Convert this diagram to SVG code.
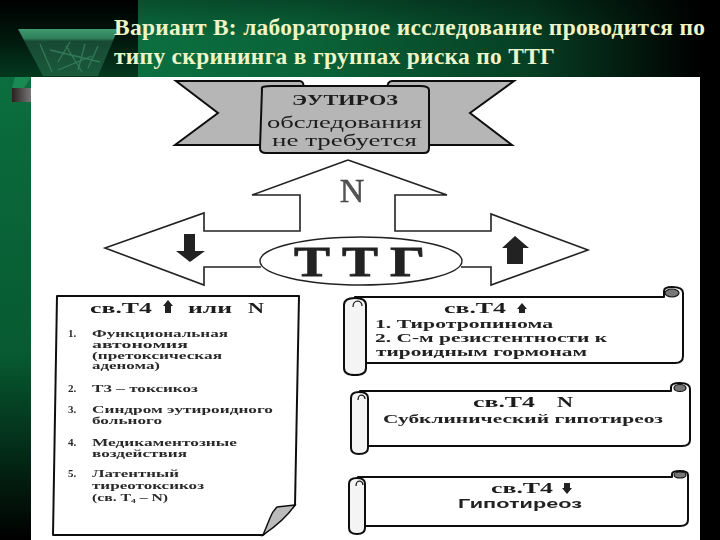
<svg xmlns="http://www.w3.org/2000/svg" width="720" height="540" viewBox="0 0 720 540">
<style>
.title{font:bold 23.4px "Liberation Serif",serif;fill:#eef5c6}
.s{font-family:"Liberation Serif",serif;font-weight:bold;fill:#1c1c1c}
.h{font-size:15px}
.p{font-size:11px;fill:#2a2a2a}
.l{font-size:12.5px;fill:#222}
.line{fill:#fff;stroke:#111;stroke-width:2;stroke-linejoin:round}
.roll{fill:#f4f4f4;stroke:#111;stroke-width:2}
.grey{fill:#b6b6b6;stroke:#111;stroke-width:2;stroke-linejoin:miter}
.curl{fill:#777;stroke:#111;stroke-width:1.2}
.ar{fill:#222}
</style>
<defs>
<linearGradient id="top" x1="0" x2="1" y1="0" y2="0">
<stop offset="0" stop-color="#0b6f40"/><stop offset="0.3" stop-color="#0a6439"/><stop offset="0.7" stop-color="#063f24"/><stop offset="1" stop-color="#000"/>
</linearGradient>
<linearGradient id="topshade" x1="0" x2="0" y1="0" y2="1">
<stop offset="0" stop-color="#000" stop-opacity="0.3"/><stop offset="0.5" stop-color="#000" stop-opacity="0"/>
</linearGradient>
<linearGradient id="corner" x1="0" x2="0" y1="0" y2="1">
<stop offset="0" stop-color="#000"/><stop offset="0.5" stop-color="#01180d"/><stop offset="1" stop-color="#04391f"/>
</linearGradient>
<linearGradient id="left" x1="0" x2="0" y1="0" y2="1">
<stop offset="0" stop-color="#0b6e3f"/><stop offset="0.6" stop-color="#075a31"/><stop offset="1" stop-color="#000"/>
</linearGradient>
<linearGradient id="tri" x1="0" x2="0" y1="0" y2="1">
<stop offset="0" stop-color="#3f9a70"/><stop offset="0.2" stop-color="#2f7f5a"/><stop offset="0.26" stop-color="#174a32"/><stop offset="1" stop-color="#1a5a3c"/>
</linearGradient>
<linearGradient id="bar" x1="0" x2="1" y1="0" y2="0">
<stop offset="0" stop-color="#2a2020"/><stop offset="1" stop-color="#777"/>
</linearGradient>
<filter id="scan" x="-2%" y="-2%" width="104%" height="104%"><feGaussianBlur stdDeviation="0.45"/></filter>
</defs>

<g id="background">
<rect width="720" height="540" fill="#000"/>
<rect x="138" y="0" width="562" height="77" fill="url(#top)"/>
<rect x="138" y="0" width="562" height="77" fill="url(#topshade)"/>
<rect x="700" y="0" width="20" height="540" fill="#000"/>
<rect x="0" y="0" width="138" height="77" fill="url(#corner)"/>
<rect x="0" y="77" width="31" height="463" fill="url(#left)"/>
<polygon points="18,29 118,29 98,76 43,76" fill="url(#tri)"/>
<path d="M40 44 L52 72 M70 42 L58 62 M85 44 L78 70 M98 46 L88 68 M50 50 L100 62 M58 70 L92 56 M66 46 L82 72" stroke="#3f8a68" stroke-width="1.3" fill="none" opacity="0.7"/>
<polygon points="12,88 24,88 31,77 15,77" fill="#1a8a55"/>
<rect x="12" y="88" width="19" height="14" fill="url(#bar)"/>
<rect x="31" y="77" width="669" height="463" fill="#fff"/>
</g>

<g id="title">
<text class="title" x="114" y="35" textLength="591">Вариант В: лабораторное исследование проводится по</text>
<text class="title" x="114" y="64" textLength="441">типу скрининга в группах риска по ТТГ</text>
</g>

<g filter="url(#scan)">
<g id="euthyroid">
<path class="grey" d="M176 81 H300 Q304 81 304 90 H262 V145 H175 L218 113 Z"/>
<path class="grey" d="M514 81 H392 Q387 81 387 90 H428 V145 H512 L470 113 Z"/>
<path class="grey" stroke-width="2.5" d="M262 89 Q260 86 272 86 H420 Q429 86 429 90 V148 Q429 153 424 153 H266 Q260 153 260 148 Z"/>
<text class="s" x="292" y="105" font-size="15" textLength="106" lengthAdjust="spacingAndGlyphs">ЭУТИРОЗ</text>
<text x="267" y="128" font-family="Liberation Serif,serif" font-size="17" fill="#1c1c1c" textLength="155" lengthAdjust="spacingAndGlyphs">обследования</text>
<text x="272" y="146" font-family="Liberation Serif,serif" font-size="17" fill="#1c1c1c" textLength="145" lengthAdjust="spacingAndGlyphs">не требуется</text>
</g>

<g id="connectors">
<polygon fill="#fff" points="348,160 447,195 395,195 395,231 491,231 491,214 588,250 491,285 491,267 204,267 204,285 105,248 204,213 204,231 300,231 300,195 252,195"/>
<path fill="none" stroke="#222" stroke-width="1.6" stroke-linejoin="miter" d="M348 160 L447 195 H395 V231 H491 V214 L588 250 L491 285 V267 H461 M261 267 H204 V285 L105 248 L204 213 V231 H300 V195 H252 L348 160"/>
<text x="352" y="202" text-anchor="middle" font-family="Liberation Serif,serif" font-size="34" fill="#555" stroke="#333" stroke-width="0.4">N</text>
<polygon class="ar" points="184,234 195,234 195,251 205,251 190,262 176,251 184,251"/>
<polygon class="ar" points="515,236 529,248 523,248 523,264 507,264 507,248 502,248"/>
</g>

<g id="ttg">
<ellipse cx="361" cy="261" rx="101" ry="24" fill="#fff" stroke="#222" stroke-width="1.4"/>
<g font-family="Liberation Serif,serif" font-weight="bold" font-size="43" fill="#222" stroke="#222" stroke-width="0.8">
<text x="294" y="276" textLength="36" lengthAdjust="spacingAndGlyphs">Т</text>
<text x="342" y="276" textLength="36" lengthAdjust="spacingAndGlyphs">Т</text>
<text x="390" y="276" textLength="35" lengthAdjust="spacingAndGlyphs">Г</text>
</g>
</g>

<g id="note">
<path class="line" d="M57 296 H299 L295 505 L263 535 H53 Z"/>
<path d="M295 505 L277 507 Q272 512 270 518 Q266 528 263 535 Q285 520 295 505 Z" fill="#bbb" stroke="#111" stroke-width="1.5"/>
<text class="s h" x="90" y="313" textLength="62" lengthAdjust="spacingAndGlyphs">св.Т4</text>
<polygon class="ar" points="168,300 173,306 171,306 171,313 165,313 165,306 163,306"/>
<text class="s h" x="188" y="313" font-size="13" textLength="44" lengthAdjust="spacingAndGlyphs">или</text>
<text class="s h" x="248" y="313" textLength="16" lengthAdjust="spacingAndGlyphs">N</text>
<g class="s p" lengthAdjust="spacingAndGlyphs">
<text x="68" y="337">1.</text>
<text x="92" y="337" textLength="136" lengthAdjust="spacingAndGlyphs">Функциональная</text>
<text x="92" y="348" textLength="96" lengthAdjust="spacingAndGlyphs">автономия</text>
<text x="92" y="358.5" textLength="130" lengthAdjust="spacingAndGlyphs">(претоксическая</text>
<text x="92" y="369" textLength="68" lengthAdjust="spacingAndGlyphs">аденома)</text>
<text x="68" y="392">2.</text>
<text x="92" y="392" textLength="106" lengthAdjust="spacingAndGlyphs">Т3 – токсикоз</text>
<text x="68" y="413">3.</text>
<text x="92" y="413" textLength="181" lengthAdjust="spacingAndGlyphs">Синдром эутироидного</text>
<text x="92" y="424" textLength="70" lengthAdjust="spacingAndGlyphs">больного</text>
<text x="68" y="446">4.</text>
<text x="92" y="446" textLength="145" lengthAdjust="spacingAndGlyphs">Медикаментозные</text>
<text x="92" y="457" textLength="95" lengthAdjust="spacingAndGlyphs">воздействия</text>
<text x="68" y="477">5.</text>
<text x="92" y="477" textLength="87" lengthAdjust="spacingAndGlyphs">Латентный</text>
<text x="92" y="489" textLength="112" lengthAdjust="spacingAndGlyphs">тиреотоксикоз</text>
<text x="92" y="501" textLength="76" lengthAdjust="spacingAndGlyphs">(св. Т₄ – N)</text>
</g>
</g>

<g id="scroll1">
<path class="line" d="M355 297 H664 V291 Q664 287 672 287 Q683 287 683 293 V356 Q683 363 675 363 H366 Z"/>
<ellipse class="curl" cx="672" cy="293" rx="7" ry="4"/>
<path class="roll" d="M344 305 Q344 298 355 298 Q366 298 366 305 V368 Q366 375 355 375 Q344 375 344 368 Z"/>
<path d="M353 307 Q353 301 358 301 Q362 302 362 306" fill="none" stroke="#111" stroke-width="1.2"/>
<text class="s h" x="444" y="313" textLength="62" lengthAdjust="spacingAndGlyphs">св.Т4</text>
<polygon class="ar" points="522,303 527,309 525,309 525,313 519,313 519,309 517,309"/>
<text class="s l" x="375" y="328" textLength="178" lengthAdjust="spacingAndGlyphs">1. Тиротропинома</text>
<text class="s l" x="375" y="342" textLength="232" lengthAdjust="spacingAndGlyphs">2. С-м резистентности к</text>
<text class="s l" x="376" y="356" textLength="211" lengthAdjust="spacingAndGlyphs">тироидным гормонам</text>
</g>

<g id="scroll2">
<path class="line" d="M360 391 H671 V387 Q671 383 680 383 Q690 383 690 389 V440 Q690 446 682 446 H368 Z"/>
<ellipse class="curl" cx="680" cy="388" rx="6" ry="3.5"/>
<path class="roll" d="M351 398 Q351 392 359 392 Q368 392 368 398 V448 Q368 454 359 454 Q351 454 351 448 Z"/>
<path d="M358 400 Q358 395 362 395 Q365 396 365 399" fill="none" stroke="#111" stroke-width="1.2"/>
<text class="s h" x="473" y="407" textLength="62" lengthAdjust="spacingAndGlyphs">св.Т4</text>
<text class="s h" x="557" y="407" textLength="16" lengthAdjust="spacingAndGlyphs">N</text>
<text class="s l" x="383" y="423" textLength="280" lengthAdjust="spacingAndGlyphs">Субклинический гипотиреоз</text>
</g>

<g id="scroll3">
<path class="line" d="M358 477 H672 V474 Q672 471 680 471 Q688 471 688 475 V520 Q688 526 680 526 H365 Z"/>
<ellipse class="curl" cx="680" cy="475" rx="6" ry="3"/>
<path class="roll" d="M349 484 Q349 478 357 478 Q365 478 365 484 V528 Q365 534 357 534 Q349 534 349 528 Z"/>
<path d="M356 486 Q356 481 360 481 Q363 482 363 485" fill="none" stroke="#111" stroke-width="1.2"/>
<text class="s h" x="491" y="493" textLength="62" lengthAdjust="spacingAndGlyphs">св.Т4</text>
<polygon class="ar" points="564,483 570,483 570,488 572,488 567,494 562,488 564,488"/>
<text x="458" y="508" font-family="Liberation Sans,sans-serif" font-weight="bold" font-size="13" fill="#222" textLength="124" lengthAdjust="spacingAndGlyphs">Гипотиреоз</text>
</g>
</g>
</svg>
